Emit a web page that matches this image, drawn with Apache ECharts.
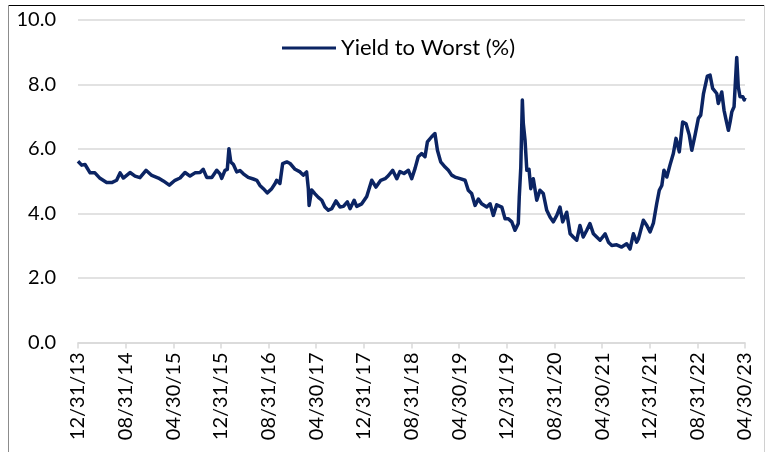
<!DOCTYPE html>
<html>
<head>
<meta charset="utf-8">
<script src="https://cdn.jsdelivr.net/npm/echarts@6/dist/echarts.min.js"></script>
<style>
  html, body { margin: 0; padding: 0; background: #ffffff; }
  #chart { width: 767px; height: 452px; }
</style>
</head>
<body>
<div id="chart"></div>
<script>
const seriesName = 'Yield to Worst (%)';

const tickLabels = ['12/31/13','08/31/14','04/30/15','12/31/15','08/31/16','04/30/17','12/31/17',
  '08/31/18','04/30/19','12/31/19','08/31/20','04/30/21','12/31/21','08/31/22','04/30/23'];

const yTicks = [0, 2, 4, 6, 8, 10];

const dates = [
  '2013-12-31','2014-01-19','2014-02-05','2014-03-01','2014-03-26','2014-04-21','2014-05-25','2014-06-20',
  '2014-07-15','2014-08-02','2014-08-19','2014-09-22','2014-10-18','2014-11-12','2014-12-13','2015-01-12',
  '2015-02-14','2015-03-10','2015-04-10','2015-05-09','2015-06-04','2015-06-29','2015-07-25','2015-08-20',
  '2015-09-15','2015-10-01','2015-10-19','2015-11-14','2015-12-09','2015-12-26','2016-01-04','2016-01-21',
  '2016-02-02','2016-02-10','2016-02-19','2016-03-03','2016-03-20','2016-04-06','2016-04-23','2016-05-18',
  '2016-06-13','2016-07-01','2016-07-17','2016-08-04','2016-08-24','2016-09-16','2016-10-03','2016-10-11',
  '2016-10-28','2016-11-11','2016-12-02','2016-12-19','2017-01-14','2017-02-08','2017-02-23','2017-03-12',
  '2017-03-21','2017-03-25','2017-04-07','2017-04-24','2017-05-11','2017-05-29','2017-06-14','2017-07-01',
  '2017-07-19','2017-08-10','2017-08-31','2017-09-17','2017-10-07','2017-10-21','2017-11-11','2017-11-24',
  '2017-12-20','2018-01-15','2018-02-09','2018-03-01','2018-03-26','2018-04-17','2018-05-03','2018-05-26',
  '2018-06-16','2018-07-02','2018-07-23','2018-08-15','2018-09-01','2018-09-18','2018-10-04','2018-10-22',
  '2018-11-08','2018-11-20','2018-12-12','2018-12-29','2019-01-11','2019-01-28','2019-02-18','2019-03-06',
  '2019-03-23','2019-04-09','2019-05-05','2019-05-31','2019-06-16','2019-07-03','2019-07-21','2019-08-07',
  '2019-08-24','2019-09-19','2019-10-06','2019-10-23','2019-11-09','2019-12-05','2019-12-22','2020-01-08',
  '2020-01-26','2020-02-11','2020-02-27','2020-03-03','2020-03-11','2020-03-19','2020-03-24','2020-04-02',
  '2020-04-11','2020-04-22','2020-05-01','2020-05-14','2020-06-01','2020-06-17','2020-07-04','2020-07-22',
  '2020-08-08','2020-08-25','2020-09-12','2020-09-28','2020-10-12','2020-11-02','2020-11-19','2020-12-05',
  '2020-12-23','2021-01-09','2021-01-26','2021-02-12','2021-02-27','2021-03-17','2021-04-03','2021-04-20',
  '2021-05-16','2021-06-02','2021-06-19','2021-07-14','2021-08-09','2021-08-18','2021-09-04','2021-09-21',
  '2021-10-08','2021-10-25','2021-11-03','2021-11-28','2021-12-16','2022-01-02','2022-01-19','2022-02-05',
  '2022-02-17','2022-03-01','2022-03-12','2022-03-27','2022-04-12','2022-04-29','2022-05-13','2022-05-30',
  '2022-06-16','2022-07-03','2022-07-20','2022-08-02','2022-08-19','2022-09-05','2022-09-17','2022-10-01',
  '2022-10-21','2022-11-04','2022-11-17','2022-12-08','2022-12-16','2023-01-03','2023-01-15','2023-01-26',
  '2023-02-06','2023-02-14','2023-02-22','2023-03-05','2023-03-19','2023-03-27','2023-04-05','2023-04-19',
  '2023-04-26','2023-04-30'
];

const ytw = [
  5.62,5.50,5.52,5.26,5.26,5.09,4.96,4.96,
  5.03,5.26,5.10,5.27,5.16,5.11,5.34,5.18,
  5.10,5.01,4.88,5.03,5.10,5.27,5.16,5.26,
  5.27,5.37,5.12,5.12,5.34,5.23,5.09,5.34,
  5.37,6.01,5.60,5.52,5.29,5.33,5.23,5.12,
  5.07,5.03,4.87,4.77,4.64,4.77,4.93,5.03,
  4.93,5.55,5.60,5.55,5.37,5.29,5.19,5.29,
  4.77,4.25,4.73,4.61,4.50,4.41,4.20,4.10,
  4.15,4.39,4.20,4.22,4.36,4.15,4.41,4.22,
  4.30,4.53,5.03,4.82,5.03,5.08,5.17,5.34,
  5.08,5.30,5.24,5.34,5.08,5.40,5.76,5.86,
  5.76,6.22,6.38,6.48,5.96,5.60,5.44,5.34,
  5.19,5.13,5.08,5.03,4.72,4.62,4.25,4.45,
  4.30,4.20,4.30,3.94,4.27,4.20,3.84,3.84,
  3.74,3.48,3.69,4.51,5.44,7.52,6.79,6.27,
  5.34,5.37,4.77,5.08,4.41,4.72,4.62,4.10,
  3.89,3.74,3.94,4.20,3.74,4.04,3.37,3.27,
  3.17,3.63,3.27,3.48,3.69,3.37,3.27,3.17,
  3.37,3.11,3.01,3.03,2.96,2.91,3.06,2.90,
  3.37,3.11,3.21,3.79,3.63,3.43,3.70,4.31,
  4.72,4.87,5.34,5.13,5.50,5.86,6.33,5.91,
  6.84,6.78,6.43,5.96,6.43,6.95,7.05,7.72,
  8.26,8.29,7.88,7.72,7.41,7.77,7.20,6.89,
  6.58,6.84,7.15,7.31,8.84,7.93,7.62,7.62,
  7.52,7.60
];

// months elapsed since 12/31/2013 (fractional, by day of month)
function monthOffset(s) {
  const p = s.split('-').map(Number);
  const dim = new Date(p[0], p[1], 0).getDate();
  return (p[0] - 2014) * 12 + (p[1] - 1) + p[2] / dim;
}

const FONT = 'Lato';
const chart = echarts.init(document.getElementById('chart'), null, { renderer: 'canvas' });
chart.setOption({
  animation: false,
  backgroundColor: '#ffffff',
  textStyle: { fontFamily: FONT },
  legend: {
    left: 277,
    top: 32,
    itemWidth: 54,
    itemHeight: 22,
    textStyle: { fontSize: 22, color: '#000000', fontFamily: FONT },
    data: [{ name: seriesName, icon: 'path://M0,0 L54,0 L54,3 L0,3 Z' }]
  },
  grid: { left: 78, right: 22, top: 20, bottom: 109.5 },
  xAxis: {
    type: 'value',
    min: 0,
    max: (tickLabels.length - 1) * 8,
    interval: 8,
    axisLine: { show: true, lineStyle: { color: '#d9d9d9', width: 1.5 } },
    axisTick: { show: true, length: 6, lineStyle: { color: '#d9d9d9', width: 1.5 } },
    splitLine: { show: false },
    axisLabel: {
      rotate: 90,
      fontSize: 20,
      color: '#000000',
      fontFamily: FONT,
      margin: 10,
      formatter: function (v) { return tickLabels[Math.round(v / 8)] || ''; }
    }
  },
  yAxis: {
    type: 'value',
    min: yTicks[0],
    max: yTicks[yTicks.length - 1],
    interval: 2,
    axisLine: { show: false },
    axisTick: { show: false },
    splitLine: { lineStyle: { color: '#d9d9d9', width: 1.5 } },
    axisLabel: {
      fontSize: 20,
      color: '#000000',
      fontFamily: FONT,
      margin: 22,
      formatter: function (v) { return v.toFixed(1); }
    }
  },
  series: [{
    name: seriesName,
    type: 'line',
    symbol: 'none',
    color: '#0b2463',
    lineStyle: { width: 3.5, color: '#0b2463', join: 'round' },
    data: dates.map(function (d, i) { return [monthOffset(d), ytw[i]]; })
  }],
  graphic: [
    { type: 'line', silent: true, shape: { x1: 8, y1: 5.5, x2: 764, y2: 5.5 }, style: { stroke: '#000000', lineWidth: 1 } },
    { type: 'line', silent: true, shape: { x1: 8.5, y1: 5, x2: 8.5, y2: 452 }, style: { stroke: '#8c8c8c', lineWidth: 1 } },
    { type: 'line', silent: true, shape: { x1: 764.5, y1: 5, x2: 764.5, y2: 452 }, style: { stroke: '#d0d0d0', lineWidth: 1 } }
  ]
});
</script>
</body>
</html>
